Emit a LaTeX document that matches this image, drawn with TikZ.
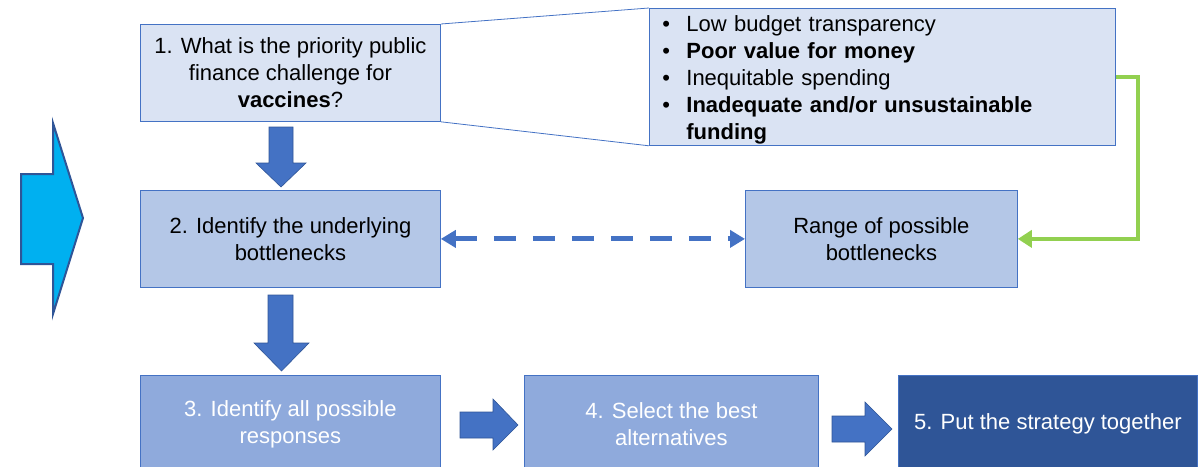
\documentclass[tikz,border=0pt]{standalone}
\usepackage{fontspec}
\setmainfont{Liberation Sans}
\usetikzlibrary{arrows.meta,calc}

\definecolor{edgeblue}{HTML}{4472C4}
\definecolor{darkblue}{HTML}{2F5597}
\definecolor{paleblue}{HTML}{DAE3F3}
\definecolor{lightblue}{HTML}{B4C7E7}
\definecolor{midblue}{HTML}{8FAADC}
\definecolor{cyanblue}{HTML}{00B0F0}
\definecolor{lime}{HTML}{92D050}

\begin{document}
\begin{tikzpicture}[x=1pt,y=-1pt,
  box/.style={draw=edgeblue, line width=0.8pt, anchor=north west, align=center,
    inner sep=0pt, font=\fontsize{22}{27}\selectfont},
  blockarrow/.style={fill=edgeblue, draw=darkblue, line width=0.6pt, line join=miter},
  link/.style={draw=edgeblue, line width=0.8pt}]
\useasboundingbox (0,0) rectangle (1201,466);

% large entry arrow on the left
\draw[fill=cyanblue, draw=darkblue, line width=2pt, line join=miter]
  (21,174) -- (53,174) -- (53,123) -- (83,218) -- (53,314) -- (53,264) -- (21,264) -- cycle;

% step boxes
\node[box, fill=paleblue, minimum width=300pt, minimum height=97pt] (q1) at (140,24)
  {1. What is the priority public\\finance challenge for\\\textbf{vaccines}?};
\node[box, fill=paleblue, minimum width=466pt, minimum height=137pt,
      text width=440pt, inner xsep=13pt, align=left] (opts) at (649,8)
  {\rule{0pt}{21pt}\makebox[24pt][l]{•}Low budget transparency\\
   \makebox[24pt][l]{•}\textbf{Poor value for money}\\
   \makebox[24pt][l]{•}Inequitable spending\\
   \makebox[24pt][l]{•}\textbf{Inadequate and/or unsustainable}\\
   \hspace*{24pt}\textbf{funding}};
\node[box, fill=lightblue, minimum width=300pt, minimum height=97pt] (q2) at (140,190)
  {2. Identify the underlying\\bottlenecks};
\node[box, fill=lightblue, minimum width=272pt, minimum height=97pt] (range) at (745,190)
  {Range of possible\\bottlenecks};
\node[box, fill=midblue, text=white, minimum width=300pt, minimum height=97pt] (q3) at (140,375)
  {3. Identify all possible\\responses};
\node[box, fill=midblue, text=white, minimum width=294pt, minimum height=97pt] (q4) at (524,375)
  {4. Select the best\\alternatives};
\node[box, fill=darkblue, text=white, minimum width=299pt, minimum height=97pt] (q5) at (898,375)
  {5. Put the strategy together};

% callout lines from question 1 to its options
\draw[link] (q1.north east) -- (opts.north west);
\draw[link] (q1.south east) -- (opts.south west);

% block arrows between steps
\draw[blockarrow] (269,127) -- (293,127) -- (293,163) -- (306,163) -- (281,187)
  -- (256,163) -- (269,163) -- cycle;
\draw[blockarrow] (268,295) -- (293,295) -- (293,343) -- (309,343) -- (281.5,371)
  -- (254,343) -- (268,343) -- cycle;
\draw[blockarrow] (460,412) -- (493,412) -- (493,399) -- (518,425) -- (493,450)
  -- (493,438) -- (460,438) -- cycle;
\draw[blockarrow] (832,416) -- (865,416) -- (865,402) -- (892,429) -- (865,456)
  -- (865,442) -- (832,442) -- cycle;

% dashed two-way link between bottleneck boxes
\draw[draw=edgeblue, line width=5pt, dash pattern=on 22pt off 17pt,
      {Triangle[length=15pt,width=17pt]}-{Triangle[length=15pt,width=17pt]}]
  (q2.east) -- (range.west);

% green feedback connector
\draw[draw=lime, line width=4.5pt, -{Triangle[length=14pt,width=17pt]}]
  (opts.east) -- ++(22,0) |- (range.east);
\end{tikzpicture}
\end{document}
